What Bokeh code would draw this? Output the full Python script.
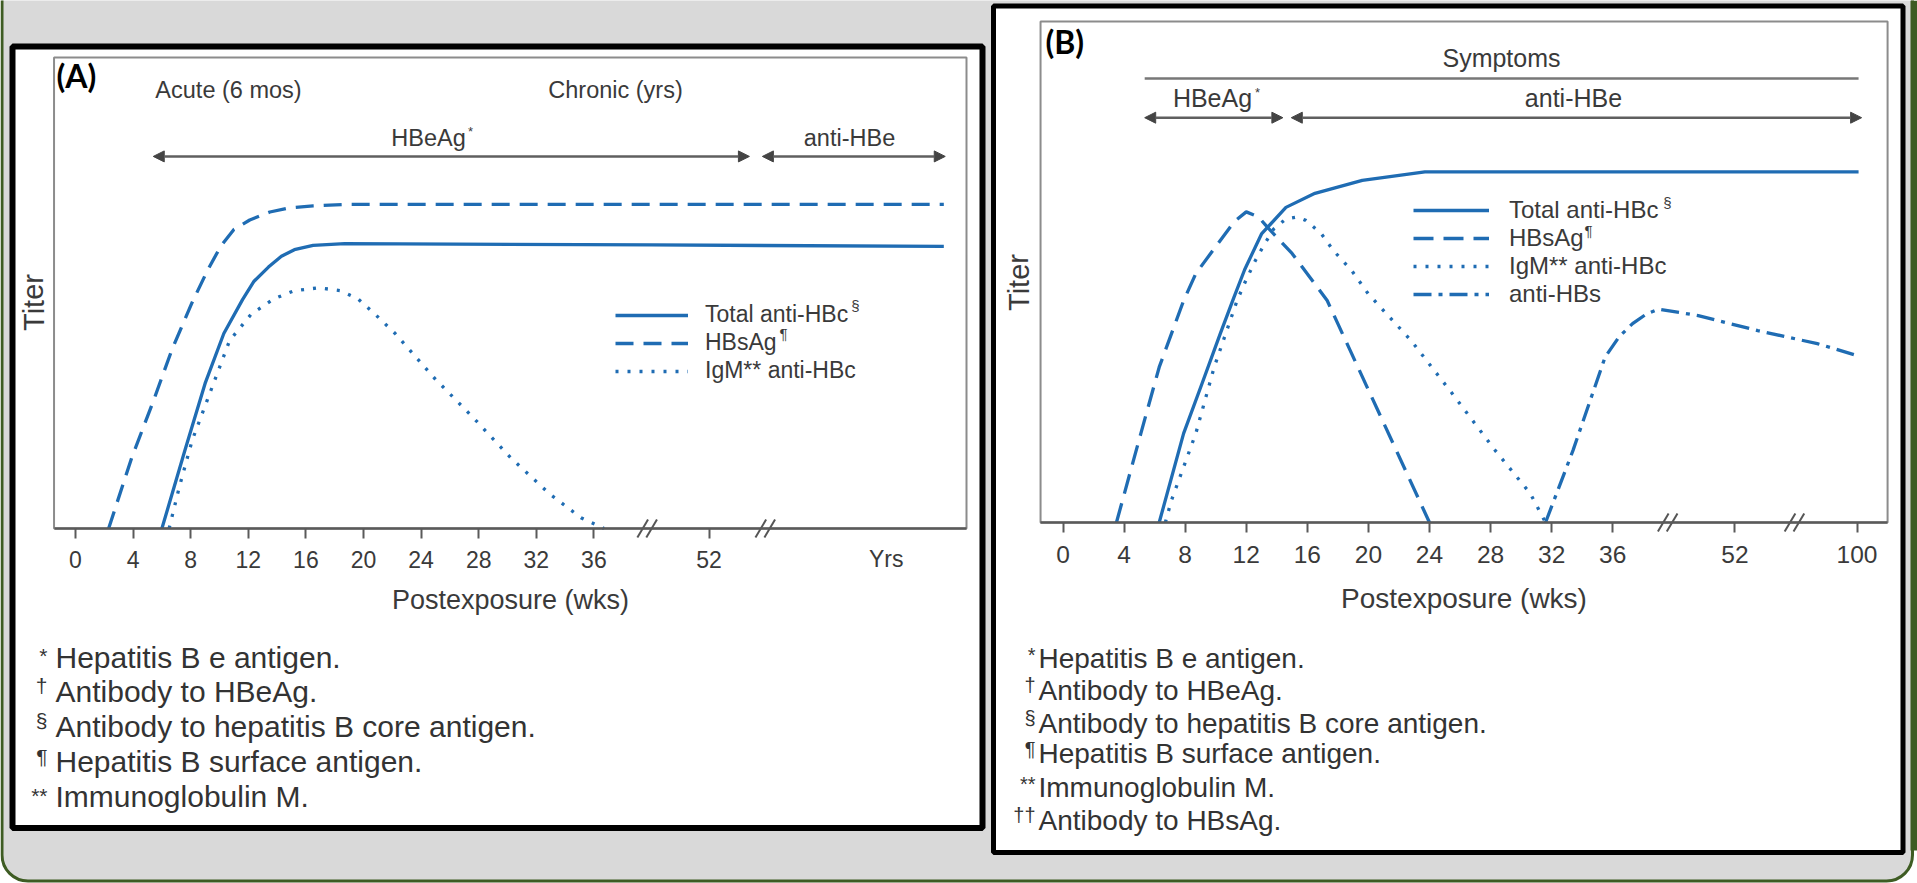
from bokeh.plotting import figure
from bokeh.models import Range1d, LinearAxis, FixedTicker, Arrow, NormalHead, Legend, LegendItem
from bokeh.core.properties import value
from bokeh.embed import file_html
from bokeh.resources import INLINE

# ---------------- data (x = position on the broken week axis, y = relative titer 0-100) ----------------
tick_pos_A = [0, 4, 8, 12, 16, 20, 24, 28, 32, 36, 44]
tick_lab_A = ["0", "4", "8", "12", "16", "20", "24", "28", "32", "36", "52"]
yrs_pos_A = 56.3
tick_pos_B = [0, 4, 8, 12, 16, 20, 24, 28, 32, 36, 44, 52]
tick_lab_B = ["0", "4", "8", "12", "16", "20", "24", "28", "32", "36", "52", "100"]
breaks_A = [39.7, 47.9]
breaks_B = [39.6, 47.9]

# Panel A - chronic infection
a_hbsag_x = [2.3, 3.9, 5.4, 6.7, 8.1, 9.2, 10.1, 11.0, 12.1, 13.5, 14.7, 16.5, 18.7, 40.0, 60.3]
a_hbsag_y = [0, 15, 27, 38, 48, 55, 60, 63.5, 65.5, 67.2, 68.0, 68.5, 68.8, 68.8, 68.8]
a_total_x = [6.0, 7.6, 9.0, 10.3, 11.6, 12.4, 13.4, 14.3, 15.2, 16.5, 18.7, 40.0, 60.3]
a_total_y = [0, 16.6, 30.8, 41.4, 48.6, 52.5, 55.5, 57.8, 59.2, 60.1, 60.5, 60.2, 59.9]
a_igm_x = [6.5, 7.2, 8.1, 9.4, 10.7, 12.2, 13.8, 15.2, 16.9, 18.4, 19.6, 20.8, 22.2, 24.9, 27.6, 30.2, 32.9, 35.1, 36.7]
a_igm_y = [0, 8.7, 18.7, 29.3, 39.9, 45.5, 48.8, 50.5, 51.1, 50.5, 48.8, 45.5, 41.4, 32.0, 23.6, 15.1, 7.4, 2.3, 0]

# Panel B - acute infection with recovery
b_total_x = [6.3, 7.9, 9.1, 10.3, 11.2, 11.9, 13.0, 14.6, 16.5, 19.6, 23.7, 52.1]
b_total_y = [0, 17.8, 27.7, 37.7, 45.0, 50.5, 57.6, 62.9, 65.7, 68.3, 70.0, 70.0]
b_hbsag_x = [3.5, 5.1, 6.3, 7.9, 8.7, 10.3, 11.2, 12.0, 12.8, 13.4, 15.0, 17.3, 20.6, 24.0]
b_hbsag_y = [0, 17.8, 31, 44.3, 49.7, 56.3, 60.0, 62.0, 61.0, 58.9, 53.7, 44.3, 22.5, 0]
b_igm_x = [6.7, 7.1, 8.7, 9.9, 11.4, 12.0, 12.6, 13.2, 13.8, 14.6, 15.35, 15.9, 16.9, 17.7, 18.9, 20.0, 22.8, 25.5, 28.3, 30.6, 31.6]
b_igm_y = [0, 4.4, 17.8, 31, 44.3, 48.5, 52.3, 55.6, 58.6, 60.6, 61.0, 60.3, 57.7, 54.3, 50.3, 45.6, 36.3, 25.7, 14.4, 5.8, 0]
b_antihbs_x = [31.6, 33.4, 35.5, 36.4, 37.3, 38.2, 39.0, 41.6, 45.5, 49.4, 51.8]
b_antihbs_y = [0, 14.4, 33.0, 37.0, 39.7, 41.6, 42.6, 41.3, 38.3, 35.7, 33.5]

# phases (start, end) on the week axis
phases_A = [(5.4, 46.8), (47.7, 60.4)]
phase_names_A = ["HBeAg", "anti-HBe"]
phases_B = [(5.35, 14.4), (14.95, 52.3)]
phase_names_B = ["HBeAg", "anti-HBe"]
symptoms_B = (5.35, 52.1)

foot_A = ["Hepatitis B e antigen.", "Antibody to HBeAg.", "Antibody to hepatitis B core antigen.",
          "Hepatitis B surface antigen.", "Immunoglobulin M."]
mark_A = ["*", "\u2020", "\u00a7", "\u00b6", "**"]
foot_B = foot_A + ["Antibody to HBsAg."]
mark_B = mark_A + ["\u2020\u2020"]

# ---------------- styling / layout ----------------
FONT = "Liberation Sans"
TXT = "#3a3a3a"
BLUE = "#1f6cb3"
GREEN = "#3e5c23"
W, H = 1917, 883

p = figure(width=W, height=H, x_range=Range1d(0, W), y_range=Range1d(H, 0),
           x_axis_type=None, y_axis_type=None, toolbar_location=None, output_backend="svg",
           min_border=0, min_border_left=0, min_border_right=0, min_border_top=0, min_border_bottom=0,
           background_fill_color="white", border_fill_color="white", outline_line_color=None)

# panel geometry in page pixels: origin_x, px per week, origin_y (axis), px per titer unit
GEO = {"A": (75.0, 14.4, 528.0, 4.71), "B": (1062.5, 15.27, 522.0, 5.01)}
xr, yr = {}, {}
for k, (x0, sx, y0, sy) in GEO.items():
    xr[k] = Range1d((0 - x0) / sx, (W - x0) / sx)
    yr[k] = Range1d((y0 - H) / sy, (y0 - 0) / sy)
p.extra_x_ranges = xr
p.extra_y_ranges = yr

FRAME = {"A": (-1.49, 61.875), "B": (-1.47, 54.0)}

# page background: grey rounded card with green rim
p.quad(left=[1.5], right=[1912], top=[-60], bottom=[880.5], border_radius=26,
       fill_color="#d9d9d9", line_color=GREEN, line_width=3)
p.quad(left=[1910], right=[1917], top=[0], bottom=[850], fill_color=GREEN, line_color=None)

# outer panel boxes
p.quad(left=[12, 993], right=[982, 1902.5], top=[46, 5.5], bottom=[827.5, 852],
       fill_color="white", line_color="black", line_width=[6, 5])

for k in ["A", "B"]:
    lo, hi = FRAME[k]
    p.quad(left=[lo], right=[hi], bottom=[0], top=[100], fill_alpha=0, line_color="#8c8c8c",
           line_width=2, x_range_name=k, y_range_name=k)


def txt(xs, ys, texts, size, color=TXT, align="center", baseline="middle", angle=0,
        style="normal", font=FONT, xr_name="default", yr_name="default"):
    p.text(x=xs, y=ys, text=texts, text_font=value(font), text_font_size=f"{size}px",
           text_color=color, text_align=align, text_baseline=baseline, angle=angle,
           text_font_style=style, x_range_name=xr_name, y_range_name=yr_name)


# axes
for k, pos, lab, fs, ls, lfs, lstand in [("A", tick_pos_A, tick_lab_A, 23, 12, 27, 14),
                                          ("B", tick_pos_B, tick_lab_B, 24.5, 13, 28, 17)]:
    ax = LinearAxis(x_range_name=k, y_range_name=k, fixed_location=0, bounds=FRAME[k],
                    ticker=FixedTicker(ticks=pos, minor_ticks=[]),
                    major_label_overrides={float(a): b for a, b in zip(pos, lab)},
                    axis_label="Postexposure (wks)")
    ax.axis_line_color = "#5a5a5a"
    ax.axis_line_width = 2.5
    ax.major_tick_line_color = "#5a5a5a"
    ax.major_tick_line_width = 2
    ax.major_tick_out = 10
    ax.major_tick_in = 0
    ax.minor_tick_line_color = None
    ax.major_label_text_font = FONT
    ax.major_label_text_font_size = f"{fs}px"
    ax.major_label_text_color = TXT
    ax.major_label_standoff = ls
    ax.axis_label_text_font = FONT
    ax.axis_label_text_font_size = f"{lfs}px"
    ax.axis_label_text_font_style = "normal"
    ax.axis_label_text_color = TXT
    ax.axis_label_standoff = lstand
    p.add_layout(ax, "below")

txt([yrs_pos_A], [558], ["Yrs"], 23, xr_name="A")

# axis breaks "//"
for k, brs, dx, dy, gap in [("A", breaks_A, 0.37, 1.9, 0.31), ("B", breaks_B, 0.35, 1.8, 0.29)]:
    xs, ys = [], []
    for b in brs:
        for c in (b - gap, b + gap):
            xs.append([c - dx, c + dx])
            ys.append([-dy, dy])
    p.multi_line(xs, ys, line_color="#555555", line_width=2, x_range_name=k, y_range_name=k)

# curves
rA_total = p.line(a_total_x, a_total_y, line_color=BLUE, line_width=3.3, x_range_name="A", y_range_name="A")
rA_hbsag = p.line(a_hbsag_x, a_hbsag_y, line_color=BLUE, line_width=3.3, line_dash="18 10",
                  x_range_name="A", y_range_name="A")
rA_igm = p.line(a_igm_x, a_igm_y, line_color=BLUE, line_width=3.3, line_dash="3 9",
                x_range_name="A", y_range_name="A")
rB_total = p.line(b_total_x, b_total_y, line_color=BLUE, line_width=3.3, x_range_name="B", y_range_name="B")
rB_hbsag = p.line(b_hbsag_x, b_hbsag_y, line_color=BLUE, line_width=3.3, line_dash="20 10",
                  x_range_name="B", y_range_name="B")
rB_igm = p.line(b_igm_x, b_igm_y, line_color=BLUE, line_width=3.3, line_dash="3 9",
                x_range_name="B", y_range_name="B")
rB_ahbs = p.line(b_antihbs_x, b_antihbs_y, line_color=BLUE, line_width=3.3, line_dash="18 7 4 7",
                 x_range_name="B", y_range_name="B")

# legends
legA = Legend(items=[LegendItem(label="Total anti-HBc", renderers=[rA_total]),
                     LegendItem(label="HBsAg", renderers=[rA_hbsag]),
                     LegendItem(label="IgM** anti-HBc", renderers=[rA_igm])],
              location=(615, 499), glyph_width=73, glyph_height=20, label_standoff=17, spacing=1,
              padding=0, margin=0, background_fill_alpha=0, border_line_alpha=0,
              label_text_font=FONT, label_text_font_size="23px", label_text_color=TXT)
legB = Legend(items=[LegendItem(label="Total anti-HBc", renderers=[rB_total]),
                     LegendItem(label="HBsAg", renderers=[rB_hbsag]),
                     LegendItem(label="IgM** anti-HBc", renderers=[rB_igm]),
                     LegendItem(label="anti-HBs", renderers=[rB_ahbs])],
              location=(1413, 575), glyph_width=76, glyph_height=20, label_standoff=20, spacing=0,
              padding=0, margin=0, background_fill_alpha=0, border_line_alpha=0,
              label_text_font=FONT, label_text_font_size="24px", label_text_color=TXT)
p.add_layout(legA)
p.add_layout(legB)
txt([855, 783, 1667, 1588], [305, 333, 202, 230], ["\u00a7", "\u00b6", "\u00a7", "\u00b6"], 15)

# phase arrows and labels
for k, yv, spans in [("A", 79.0, phases_A), ("B", 80.8, phases_B)]:
    for s, e in spans:
        p.add_layout(Arrow(start=NormalHead(size=11, fill_color="#444444", line_color="#444444"),
                           end=NormalHead(size=11, fill_color="#444444", line_color="#444444"),
                           x_start=s, y_start=yv, x_end=e, y_end=yv, line_color="#5f5f5f",
                           line_width=2.5, x_range_name=k, y_range_name=k))
p.segment(x0=[symptoms_B[0]], y0=[88.6], x1=[symptoms_B[1]], y1=[88.6], line_color="#777777",
          line_width=2.5, x_range_name="B", y_range_name="B")

txt([228, 615], [89, 89], ["Acute (6 mos)", "Chronic (yrs)"], 23.5)
txt([428, 849], [137, 137], phase_names_A, 23.5)
txt([1501], [57], ["Symptoms"], 25)
txt([1212, 1573], [97, 97], phase_names_B, 25)
txt([470, 1257], [131, 92], ["*", "*"], 13)

# panel tags and y titles
txt([56, 1045], [75, 41], ["(A)", "(B)"], 32, color="black", align="left", style="bold", font="Lato")
txt([33, 1018], [302, 282], ["Titer", "Titer"], 29, angle=1.5708)

# footnotes
txt([55] * len(foot_A), [657, 691, 726, 761, 796], foot_A, 30, color="#333333", align="left")
txt([47] * len(mark_A), [643, 673, 708, 744, 783], mark_A, 21, color="#333333", align="right",
    baseline="top")
txt([1038] * len(foot_B), [658, 690, 723, 753, 787, 820], foot_B, 28, color="#333333", align="left")
txt([1035] * len(mark_B), [643, 673, 706, 737, 772, 803], mark_B, 20, color="#333333", align="right",
    baseline="top")

open("out.html", "w").write(file_html(p, INLINE))
